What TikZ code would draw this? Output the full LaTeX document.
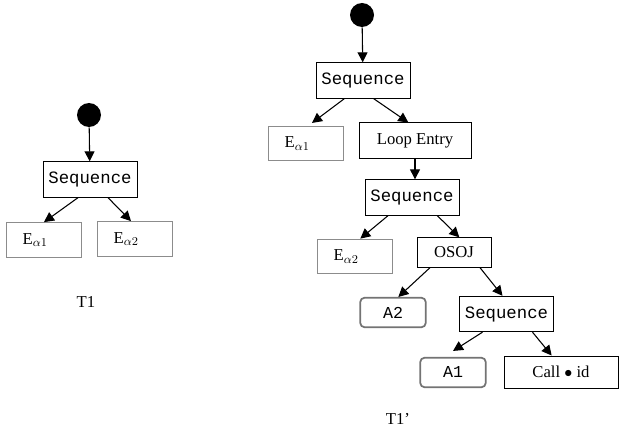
\documentclass[tikz,border=0pt]{standalone}
\usepackage{fontspec}
\setmainfont{Liberation Serif}
\setmonofont{Liberation Mono}
\usetikzlibrary{positioning}
\usetikzlibrary{arrows.meta}

\begin{document}
\begin{tikzpicture}
[x=0.75pt,y=-0.75pt,
 every node/.style={font=\fontsize{12.5}{14}\selectfont},
 block/.style={shape=rectangle,draw,line width=0.75pt,inner sep=0pt},
 seq/.style={block,font=\fontsize{13}{14}\selectfont\ttfamily,minimum width=70.5pt,minimum height=26.5pt},
 leaf/.style={shape=rectangle,draw=black!45,line width=0.8pt,inner xsep=12pt,inner ysep=0pt,
   text width=32pt,align=left,minimum height=26pt},
 act/.style={shape=rectangle,rounded corners=3pt,draw=black!55,line width=1.3pt,inner sep=0pt,
   font=\fontsize{12.5}{14}\selectfont\ttfamily,minimum width=49pt,minimum height=22pt},
 start/.style={shape=circle,fill=black,minimum size=18pt,inner sep=0pt},
 edge/.style={line width=0.8pt,-{Triangle[length=7.5pt,width=7.5pt]}}]

\useasboundingbox (0,0) rectangle (621,431);

% T1
\node (s1) [start] at (89,115) {};
\node (seqa) [seq] at (90,179.5) {Sequence};
\node (ea1) [leaf] at (44,240) {E$_{\alpha1}$};
\node (ea2) [leaf] at (135,239) {E$_{\alpha2}$};
\node (t1) at (86,302) {T1};

\draw [edge] (s1) -- (seqa);
\draw [edge] ([xshift=-9pt]seqa.south) -- (ea1.north);
\draw [edge] ([xshift=13.5pt]seqa.south) -- ([xshift=-3pt]ea2.north);

% T1'
\node (s2) [start] at (362,15) {};
\node (seqb) [seq] at (363,80.5) {Sequence};
\node (eb1) [leaf] at (306,143.5) {E$_{\alpha1}$};
\node (loop) [block,minimum width=84pt,minimum height=27pt] at (415,141) {Loop Entry};
\node (seqc) [seq] at (412,197.5) {Sequence};
\node (eb2) [leaf] at (355,256.5) {E$_{\alpha2}$};
\node (osoj) [block,minimum width=55.5pt,minimum height=22pt] at (454,252.5) {OSOJ};
\node (a2) [act] at (393,312.5) {A2};
\node (seqd) [seq] at (506.5,314) {Sequence};
\node (a1) [act] at (453,372.5) {A1};
\node (call) [block,minimum width=85.5pt,minimum height=24pt] at (561,372) {Call $\bullet$ id};
\node (t2) at (398,419) {T1'};

\draw [edge] (s2) -- (seqb);
\draw [edge] ([xshift=-14pt]seqb.south) -- ([xshift=4.5pt,yshift=2pt]eb1.north);
\draw [edge] ([xshift=8pt]seqb.south) -- ([xshift=-5pt]loop.north);
\draw [edge] (loop.south) -- (loop.south |- seqc.north);
\draw [edge] ([xshift=-18pt]seqc.south) -- ([xshift=4pt]eb2.north);
\draw [edge] ([xshift=19pt]seqc.south) -- ([xshift=4pt]osoj.north);
\draw [edge] ([xshift=-18pt]osoj.south) -- ([xshift=4pt]a2.north);
\draw [edge] ([xshift=19.5pt]osoj.south) -- ([xshift=-3pt]seqd.north);
\draw [edge] ([xshift=-18pt]seqd.south) -- ([yshift=4.5pt]a1.north);
\draw [edge] ([xshift=19.5pt]seqd.south) -- ([xshift=-7pt]call.north);

\end{tikzpicture}
\end{document}
